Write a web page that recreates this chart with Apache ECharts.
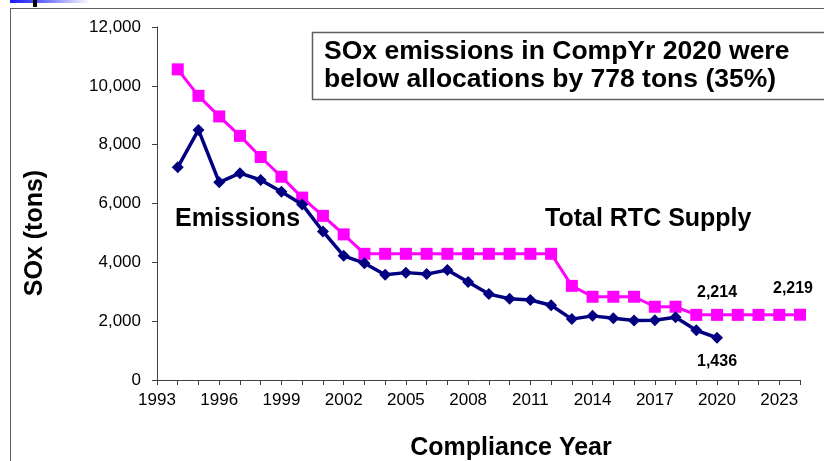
<!DOCTYPE html>
<html>
<head>
<meta charset="utf-8">
<script src="https://cdn.jsdelivr.net/npm/echarts@6/dist/echarts.min.js"></script>
<style>
html, body { margin: 0; padding: 0; background: #fff; }
#main { width: 824px; height: 461px; }
</style>
</head>
<body>
<div id="main"></div>
<script>
// years on the x axis (1993 .. 2024)
var years = [];
for (var y = 1993; y <= 2024; y++) years.push(String(y));

// SOx emissions, 1994 .. 2020
var emissions = [7230, 8500, 6720, 7030, 6800, 6400, 5970, 5050, 4220, 3970,
	3580, 3650, 3600, 3740, 3330, 2920, 2760, 2720, 2540, 2070,
	2180, 2100, 2020, 2030, 2130, 1690, 1436];
// total RTC supply, 1994 .. 2024
var supply = [10560, 9660, 8960, 8300, 7580, 6910, 6200, 5580, 4950, 4290,
	4290, 4290, 4290, 4290, 4290, 4290, 4290, 4290, 4290, 3200,
	2830, 2830, 2830, 2490, 2490, 2214, 2214, 2214, 2214, 2214, 2219];

var firstYear = 1994;
var yTicks = [0, 2000, 4000, 6000, 8000, 10000, 12000];

function fmt(v) {
	return String(v).replace(/\B(?=(\d{3})+(?!\d))/g, ',');
}

// line up a series with the year categories (null where no value)
function onYears(vals) {
	var out = [];
	for (var i = 0; i < years.length; i++) {
		var k = +years[i] - firstYear;
		out.push(k >= 0 && k < vals.length ? vals[k] : null);
	}
	return out;
}

var emData = onYears(emissions);
var supData = onYears(supply);

var lblStyle = { show: true, fontFamily: 'Liberation Sans', fontWeight: 'bold', fontSize: 16, color: '#000', formatter: function (p) { return fmt(p.value); } };

var i2020 = years.indexOf('2020');
var i2024 = years.indexOf('2024');
emData[i2020] = { value: emData[i2020], label: Object.assign({}, lblStyle, { position: 'bottom', distance: 10 }) };
supData[i2020] = { value: supData[i2020], label: Object.assign({}, lblStyle, { position: 'top', distance: 8 }) };
supData[i2024] = { value: supData[i2024], label: Object.assign({}, lblStyle, { position: 'top', distance: 12, offset: [-7, 0] }) };

var Chart = echarts.init(document.getElementById('main'));
var boldTxt = { fontFamily: 'Liberation Sans', fontWeight: 'bold', fontSize: 25, fill: '#000' };
var boxTxt = Object.assign({}, boldTxt, { fontSize: 26.5 });

var option = {
	animation: false,
	backgroundColor: '#fff',
	grid: { left: 157, right: 24, top: 27, bottom: 81 },
	xAxis: {
		type: 'category',
		data: years,
		boundaryGap: false,
		axisLine: { lineStyle: { color: '#404040', width: 1 } },
		axisTick: { interval: 0, length: 5, lineStyle: { color: '#404040' } },
		axisLabel: { interval: 2, margin: 12, color: '#000', fontFamily: 'Liberation Sans', fontSize: 17 },
		splitLine: { show: false }
	},
	yAxis: {
		type: 'value',
		min: yTicks[0],
		max: yTicks[yTicks.length - 1],
		interval: 2000,
		axisLine: { show: true, lineStyle: { color: '#404040', width: 1 } },
		axisTick: { show: true, length: 5, lineStyle: { color: '#404040' } },
		axisLabel: { margin: 16, color: '#000', fontFamily: 'Liberation Sans', fontSize: 17, formatter: fmt },
		splitLine: { show: false }
	},
	series: [{
		name: 'Total RTC Supply',
		type: 'line',
		data: supData,
		symbol: 'rect',
		symbolSize: 12,
		lineStyle: { color: '#FF00FF', width: 3 },
		itemStyle: { color: '#FF00FF' },
		z: 2
	}, {
		name: 'Emissions',
		type: 'line',
		data: emData,
		symbol: 'diamond',
		symbolSize: 12,
		lineStyle: { color: '#000080', width: 3.5 },
		itemStyle: { color: '#000080' },
		z: 3
	}],
	graphic: [
		// slide frame and header remnant
		{ type: 'line', shape: { x1: 10, y1: 8.5, x2: 824, y2: 8.5 }, style: { stroke: '#606060', lineWidth: 1 } },
		{ type: 'line', shape: { x1: 10.5, y1: 8, x2: 10.5, y2: 461 }, style: { stroke: '#606060', lineWidth: 1 } },
		{ type: 'rect', shape: { x: 10, y: 0, width: 80, height: 3 }, style: { fill: new echarts.graphic.LinearGradient(0, 0, 1, 0, [{ offset: 0, color: '#1a1aff' }, { offset: 0.3, color: '#4d4dff' }, { offset: 1, color: '#ffffff' }]) } },
		{ type: 'rect', shape: { x: 33, y: 0, width: 4, height: 7 }, style: { fill: '#000' } },
		// annotation box
		{ type: 'rect', shape: { x: 312.5, y: 32.5, width: 520, height: 67 }, style: { fill: '#fff', stroke: '#606060', lineWidth: 1.5 }, z: 10 },
		{ type: 'text', x: 324, y: 52, style: Object.assign({ text: 'SOx emissions in CompYr 2020 were', verticalAlign: 'middle' }, boxTxt), z: 11 },
		{ type: 'text', x: 324, y: 80, style: Object.assign({ text: 'below allocations by 778 tons (35%)', verticalAlign: 'middle' }, boxTxt), z: 11 },
		// series names
		{ type: 'text', x: 175, y: 219, style: Object.assign({ text: 'Emissions', verticalAlign: 'middle' }, boldTxt), z: 11 },
		{ type: 'text', x: 545, y: 219, style: Object.assign({ text: 'Total RTC Supply', verticalAlign: 'middle' }, boldTxt), z: 11 },
		// axis titles
		{ type: 'text', x: 35, y: 233, rotation: Math.PI / 2, style: Object.assign({ text: 'SOx (tons)', align: 'center', verticalAlign: 'middle' }, boldTxt), z: 11 },
		{ type: 'text', x: 511, y: 448, style: Object.assign({ text: 'Compliance Year', align: 'center', verticalAlign: 'middle' }, boldTxt), z: 11 }
	]
};
Chart.setOption(option);
</script>
</body>
</html>
